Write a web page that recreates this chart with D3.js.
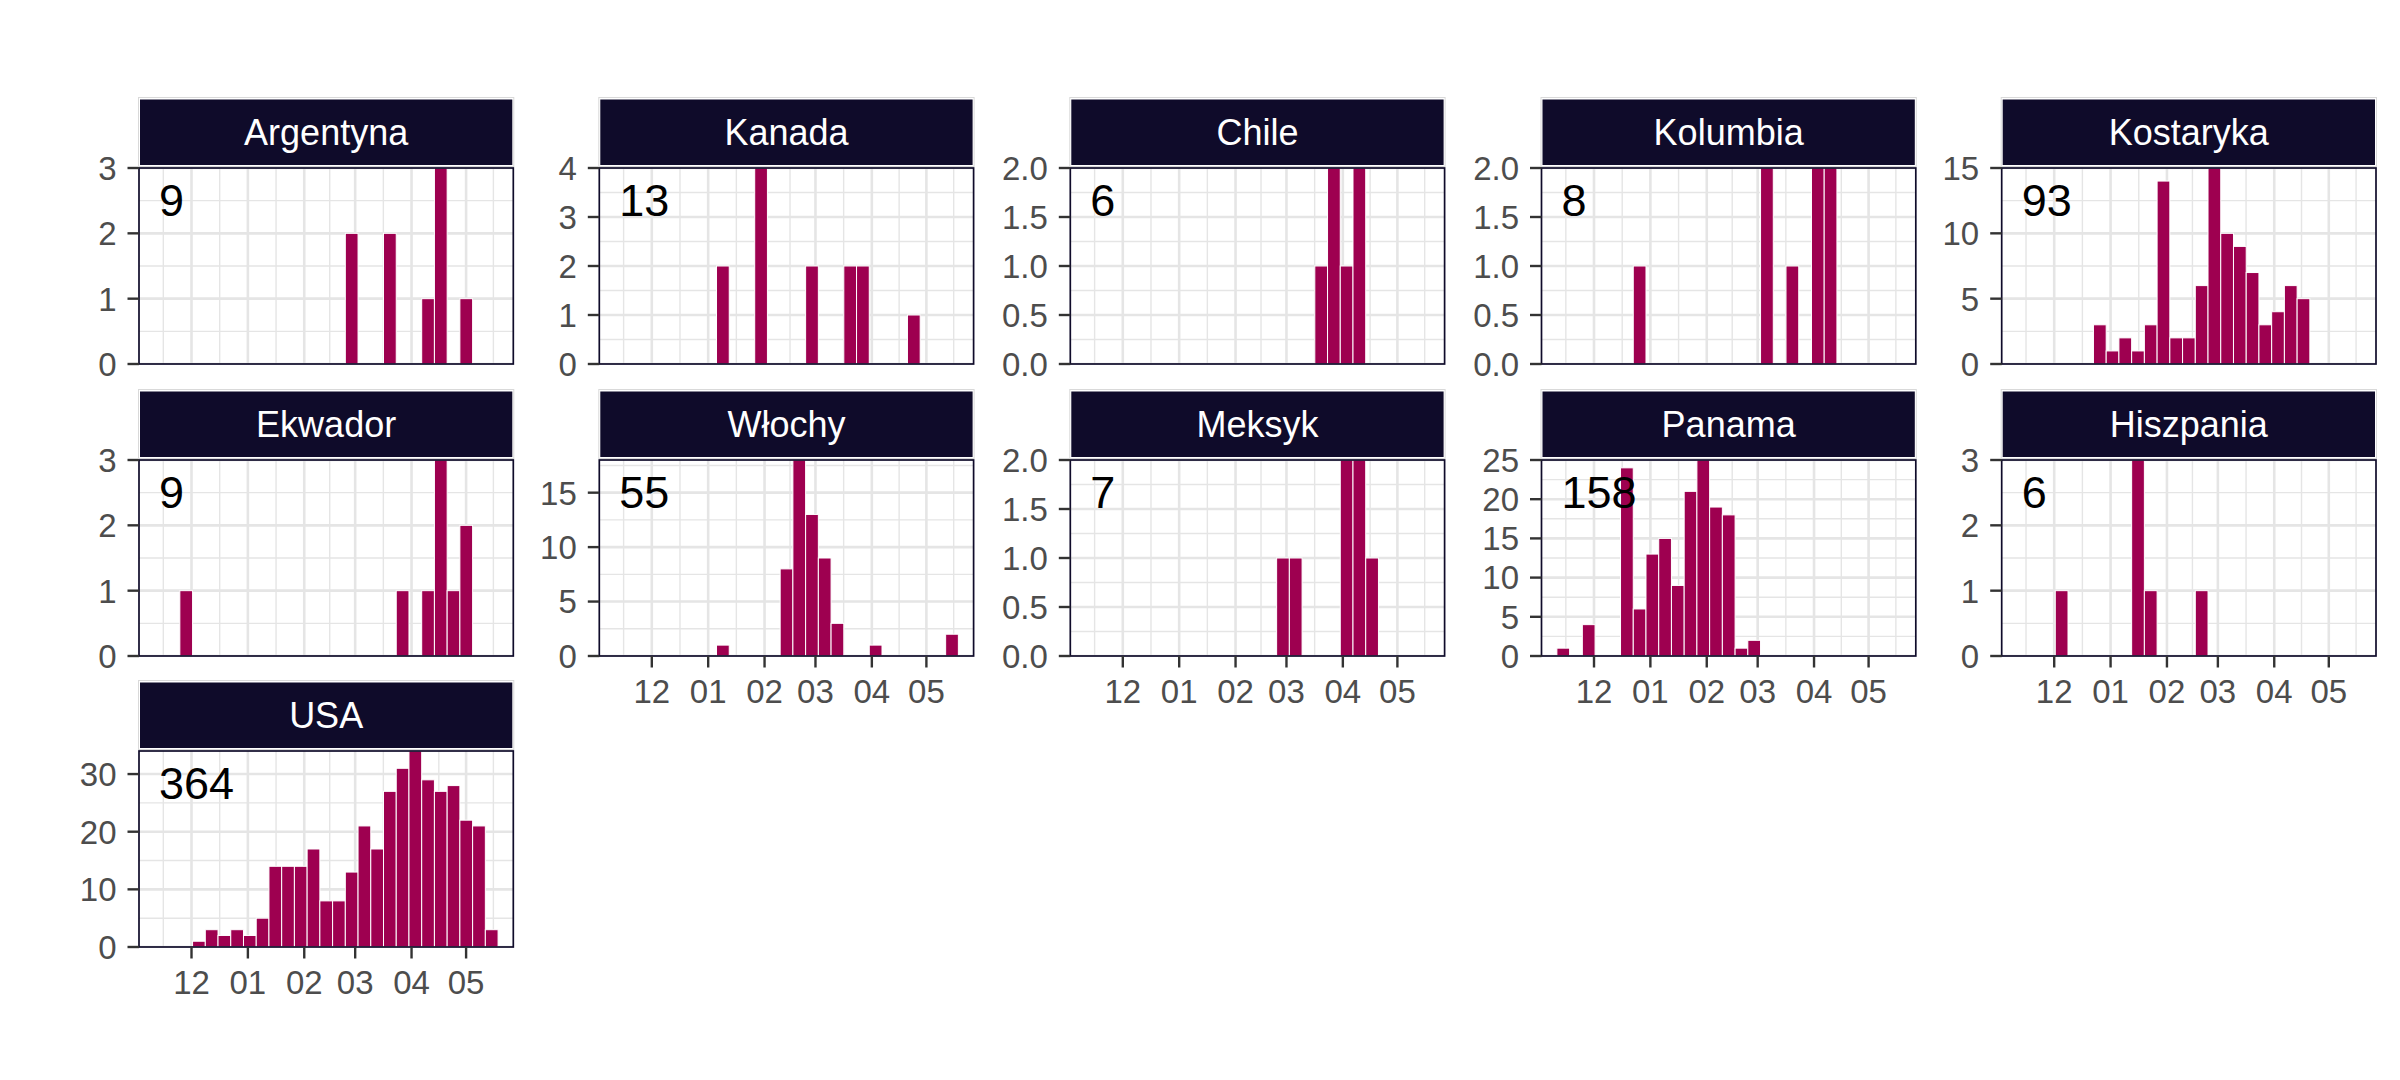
<!DOCTYPE html>
<html><head><meta charset="utf-8">
<script src="https://cdn.jsdelivr.net/npm/d3@7"></script>
<style>
body{margin:0;background:#fff;}
svg{display:block;}
text{font-family:"Liberation Sans",Arial,Helvetica,sans-serif;}
</style>
</head><body>
<svg id="chart" width="2400" height="1080"></svg>
<script>
// ---------------- DATA ----------------
const countries = ["Argentyna","Kanada","Chile","Kolumbia","Kostaryka","Ekwador","Włochy","Meksyk","Panama","Hiszpania","USA"];

// weekly bins (start of each 7-day bin)
const weekStarts = [
  "2018-11-10T14:00Z","2018-11-17T14:00Z","2018-11-24T14:00Z","2018-12-01T14:00Z","2018-12-08T14:00Z",
  "2018-12-15T14:00Z","2018-12-22T14:00Z","2018-12-29T14:00Z","2019-01-05T14:00Z","2019-01-12T14:00Z",
  "2019-01-19T14:00Z","2019-01-26T14:00Z","2019-02-02T14:00Z","2019-02-09T14:00Z","2019-02-16T14:00Z",
  "2019-02-23T14:00Z","2019-03-02T14:00Z","2019-03-09T14:00Z","2019-03-16T14:00Z","2019-03-23T14:00Z",
  "2019-03-30T14:00Z","2019-04-06T14:00Z","2019-04-13T14:00Z","2019-04-20T14:00Z","2019-04-27T14:00Z",
  "2019-05-04T14:00Z","2019-05-11T14:00Z"
];
const binDays = 7;

const monthTicks  = ["2018-12-01","2019-01-01","2019-02-01","2019-03-01","2019-04-01","2019-05-01"];
const monthLabels = ["12","01","02","03","04","05"];

const argentyna = [0,0,0,0,0,0,0,0,0,0,0,0,0,0,0,2,0,0,2,0,0,1,3,0,1,0,0];
const kanada    = [0,0,0,0,0,0,0,0,2,0,0,4,0,0,0,2,0,0,2,2,0,0,0,1,0,0,0];
const chile     = [0,0,0,0,0,0,0,0,0,0,0,0,0,0,0,0,0,0,1,2,1,2,0,0,0,0,0];
const kolumbia  = [0,0,0,0,0,0,1,0,0,0,0,0,0,0,0,0,2,0,1,0,2,2,0,0,0,0,0];
const kostaryka = [0,0,0,0,0,0,3,1,2,1,3,14,2,2,6,15,10,9,7,3,4,6,5,0,0,0,0];
const ekwador   = [0,0,1,0,0,0,0,0,0,0,0,0,0,0,0,0,0,0,0,1,0,1,3,1,2,0,0];
const wlochy    = [0,0,0,0,0,0,0,0,1,0,0,0,0,8,18,13,9,3,0,0,1,0,0,0,0,0,2];
const meksyk    = [0,0,0,0,0,0,0,0,0,0,0,0,0,0,0,1,1,0,0,0,2,2,1,0,0,0,0];
const panama    = [1,0,4,0,0,24,6,13,15,9,21,25,19,18,1,2,0,0,0,0,0,0,0,0,0,0,0];
const hiszpania = [0,0,0,1,0,0,0,0,0,3,1,0,0,0,1,0,0,0,0,0,0,0,0,0,0,0,0];
const usa       = [0,0,0,1,3,2,3,2,5,14,14,14,17,8,8,13,21,17,27,31,34,29,27,28,22,21,3];

const yTicksArgentyna = [0,1,2,3];
const yTicksKanada    = [0,1,2,3,4];
const yTicksChile     = [0,0.5,1,1.5,2];
const yTicksKolumbia  = [0,0.5,1,1.5,2];
const yTicksKostaryka = [0,5,10,15];
const yTicksEkwador   = [0,1,2,3];
const yTicksWlochy    = [0,5,10,15];
const yTicksMeksyk    = [0,0.5,1,1.5,2];
const yTicksPanama    = [0,5,10,15,20,25];
const yTicksHiszpania = [0,1,2,3];
const yTicksUsa       = [0,10,20,30];

const seriesByCountry = {
  "Argentyna":argentyna,"Kanada":kanada,"Chile":chile,"Kolumbia":kolumbia,"Kostaryka":kostaryka,
  "Ekwador":ekwador,"Włochy":wlochy,"Meksyk":meksyk,"Panama":panama,"Hiszpania":hiszpania,"USA":usa
};
const yTicksByCountry = {
  "Argentyna":yTicksArgentyna,"Kanada":yTicksKanada,"Chile":yTicksChile,"Kolumbia":yTicksKolumbia,
  "Kostaryka":yTicksKostaryka,"Ekwador":yTicksEkwador,"Włochy":yTicksWlochy,"Meksyk":yTicksMeksyk,
  "Panama":yTicksPanama,"Hiszpania":yTicksHiszpania,"USA":yTicksUsa
};

// ---------------- LAYOUT / STYLE ----------------
const colLeft = [139, 599.3, 1070.3, 1541.5, 2001.7];
const rowTop  = [168, 460, 751];
const pw = 374.3, ph = 196, ncol = 5;
const STRIP = "#0F0B2A", BAR = "#9E0050", GRID = "#E5E5E5", AXIS_TXT = "#4D4D4D", TICK = "#333333";
const AXIS_FS = 33, STRIP_FS = 36, LABEL_FS = 45;
const xDomain = [new Date("2018-11-02T03:00Z"), new Date("2019-05-26T23:00Z")];
const labelDate = new Date("2018-11-13T03:00Z");
const labelFrac = 0.7526;

const svg = d3.select("#chart");
svg.append("rect").attr("width",2400).attr("height",1080).attr("fill","#fff");

const x = d3.scaleUtc().domain(xDomain).range([0, pw]);
const weeks = weekStarts.map(s => new Date(s));
const months = monthTicks.map(s => new Date(s + "T00:00Z"));

function minorBreaks(major, lo, hi){
  const m = [];
  for (let i = 0; i < major.length - 1; i++) m.push((major[i] + major[i+1]) / 2);
  const s0 = major[1] - major[0], sN = major[major.length-1] - major[major.length-2];
  m.unshift(major[0] - s0/2);
  m.push(major[major.length-1] + sN/2);
  return m.filter(v => v > lo && v < hi);
}
const monthNums = months.map(d => +d);
const xMinor = minorBreaks(monthNums, +xDomain[0], +xDomain[1]).map(v => new Date(v));

const defs = svg.append("defs");
defs.append("clipPath").attr("id","pclip").append("rect").attr("width",pw).attr("height",ph);

countries.forEach((c, i) => {
  const col = i % ncol, row = Math.floor(i / ncol);
  const g = svg.append("g").attr("transform", `translate(${colLeft[col]},${rowTop[row]})`);
  const vals = seriesByCountry[c];
  const ymax = d3.max(vals);
  const y = d3.scaleLinear().domain([0, ymax]).range([ph, 0]);
  const yt = yTicksByCountry[c];
  const yMinor = minorBreaks(yt, 0, ymax);
  const fmt = yt.some(v => !Number.isInteger(v)) ? d3.format(".1f") : d3.format("d");

  const inner = g.append("g").attr("clip-path","url(#pclip)");
  inner.append("rect").attr("width",pw).attr("height",ph).attr("fill","#fff");
  // minor grid
  inner.selectAll(".xm").data(xMinor).join("line")
    .attr("x1",d=>x(d)).attr("x2",d=>x(d)).attr("y1",0).attr("y2",ph)
    .attr("stroke",GRID).attr("stroke-width",1.4);
  inner.selectAll(".ym").data(yMinor).join("line")
    .attr("x1",0).attr("x2",pw).attr("y1",d=>y(d)).attr("y2",d=>y(d))
    .attr("stroke",GRID).attr("stroke-width",1.4);
  // major grid
  inner.selectAll(".xM").data(months).join("line")
    .attr("x1",d=>x(d)).attr("x2",d=>x(d)).attr("y1",0).attr("y2",ph)
    .attr("stroke",GRID).attr("stroke-width",2.6);
  inner.selectAll(".yM").data(yt).join("line")
    .attr("x1",0).attr("x2",pw).attr("y1",d=>y(d)).attr("y2",d=>y(d))
    .attr("stroke",GRID).attr("stroke-width",2.6);
  // bars
  const bins = weeks.map((w, k) => ({start: w, end: d3.utcDay.offset(w, binDays), v: vals[k]})).filter(d => d.v > 0);
  inner.selectAll(".bar").data(bins).join("rect")
    .attr("x", d => x(d.start)).attr("width", d => x(d.end) - x(d.start))
    .attr("y", d => y(d.v)).attr("height", d => y(0) - y(d.v))
    .attr("fill", BAR).attr("stroke","#fff").attr("stroke-width",1);
  // total label
  g.append("text").attr("x", x(labelDate)).attr("y", y(ymax * labelFrac))
    .attr("font-size", LABEL_FS).attr("fill","#000").text(d3.sum(vals));
  // panel border
  g.append("rect").attr("width",pw).attr("height",ph).attr("fill","none")
    .attr("stroke",STRIP).attr("stroke-width",1.7);

  // y axis
  const ya = g.append("g");
  ya.selectAll("line").data(yt).join("line")
    .attr("x1",-11.5).attr("x2",0).attr("y1",d=>y(d)).attr("y2",d=>y(d))
    .attr("stroke",TICK).attr("stroke-width",2.4);
  ya.selectAll("text").data(yt).join("text")
    .attr("x",-22.5).attr("y",d=>y(d)).attr("dy","0.36em")
    .attr("text-anchor","end").attr("font-size",AXIS_FS).attr("fill",AXIS_TXT)
    .text(d=>fmt(d));

  // x axis only for panels without a panel below
  if (i + ncol >= countries.length) {
    const xa = g.append("g").attr("transform",`translate(0,${ph})`);
    xa.selectAll("line").data(months).join("line")
      .attr("x1",d=>x(d)).attr("x2",d=>x(d)).attr("y1",0).attr("y2",11.5)
      .attr("stroke",TICK).attr("stroke-width",2.4);
    xa.selectAll("text").data(months).join("text")
      .attr("x",d=>x(d)).attr("y",47.3).attr("text-anchor","middle")
      .attr("font-size",AXIS_FS).attr("fill",AXIS_TXT)
      .text((d,k)=>monthLabels[k]);
  }

  // strip
  const sTop = -70, sH = 67;
  g.append("rect").attr("x",-0.5).attr("y",sTop-0.5).attr("width",pw+1).attr("height",sH+2)
    .attr("fill","#fff").attr("stroke","#D9D9D9").attr("stroke-width",1);
  g.append("rect").attr("x",1).attr("y",sTop+1.5).attr("width",pw-2).attr("height",sH-1.5)
    .attr("fill",STRIP);
  g.append("text").attr("x",pw/2).attr("y",sTop + 1.5 + (sH-1.5)/2).attr("dy","0.36em")
    .attr("text-anchor","middle").attr("font-size",STRIP_FS).attr("fill","#fff").text(c);
});
</script>
</body></html>
